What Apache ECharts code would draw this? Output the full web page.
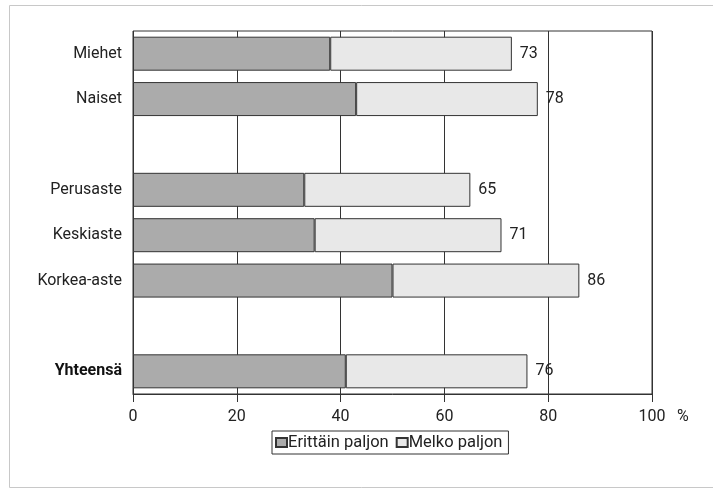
<!DOCTYPE html>
<html><head><meta charset="utf-8">
<script src="https://cdn.jsdelivr.net/npm/echarts@6/dist/echarts.min.js"></script>
<style>html,body{margin:0;padding:0;background:#fff}#c{width:713px;height:489px}</style>
</head><body><div id="c"></div>
<script>
const categories = ['Miehet','Naiset','','Perusaste','Keskiaste','Korkea-aste',' ','Yhteensä'];
const erittainPaljon = [38, 43, null, 33, 35, 50, null, 41];
const totals = [73, 78, null, 65, 71, 86, null, 76];
const melkoPaljon = totals.map((t,i)=> t==null ? null : t - erittainPaljon[i]);
const xTicks = [0,20,40,60,80,100];
const seriesNames = ['Erittäin paljon','Melko paljon'];

const FONT = 'Roboto';
const FS = 16;
const chart = echarts.init(document.getElementById('c'), null, {renderer:'canvas'});
chart.setOption({
  backgroundColor:'#fff',
  animation:false,
  textStyle:{fontFamily:FONT, color:'#222'},
  graphic:[{type:'rect', shape:{x:9.5,y:5.5,width:720,height:482}, style:{fill:'none', stroke:'#c8c8c8', lineWidth:1}, silent:true}],
  grid:{left:133, right:61, top:31, bottom:95, show:true, borderColor:'#333', borderWidth:1, backgroundColor:'transparent'},
  legend:{
    data:seriesNames, left:272, top:431, orient:'horizontal',
    borderColor:'#333', borderWidth:1, padding:[3,6,3,3], itemGap:7,
    itemWidth:11, itemHeight:9, icon:'rect',
    textStyle:{fontFamily:FONT, fontSize:FS+0.5, color:'#222', padding:[0,0,0,-4]}
  },
  xAxis:{
    type:'value', min:0, max:100, interval:20,
    name:'%', nameLocation:'end', nameGap:25,
    nameTextStyle:{fontFamily:FONT, fontSize:FS, color:'#222', verticalAlign:'top', padding:[15,0,0,0]},
    axisLine:{show:true, lineStyle:{color:'#333', width:1}},
    axisTick:{show:true, length:8, lineStyle:{color:'#333'}},
    axisLabel:{fontFamily:FONT, fontSize:FS, color:'#222', margin:15,
      formatter:v=> xTicks.includes(v) ? String(v) : ''},
    splitLine:{show:true, lineStyle:{color:'#333', width:1}}
  },
  yAxis:{
    type:'category', data:categories, inverse:true,
    axisLine:{show:false}, axisTick:{show:false},
    axisLabel:{fontFamily:FONT, fontSize:FS, color:'#222', margin:11,
      formatter:v=> v==='Yhteensä' ? '{b|'+v+'}' : v,
      rich:{b:{fontFamily:FONT, fontSize:FS, fontWeight:'bold', color:'#111'}}}
  },
  series:[
    {name:seriesNames[0], type:'bar', stack:'s', data:erittainPaljon, barWidth:34,
     itemStyle:{color:'#ababab', borderColor:'#333', borderWidth:1}},
    {name:seriesNames[1], type:'bar', stack:'s', data:melkoPaljon, barWidth:34,
     itemStyle:{color:'#e8e8e8', borderColor:'#333', borderWidth:1},
     label:{show:true, position:'right', distance:8, fontFamily:FONT, fontSize:FS, color:'#222',
       formatter:p=> String(totals[p.dataIndex])}}
  ]
});
</script></body></html>
